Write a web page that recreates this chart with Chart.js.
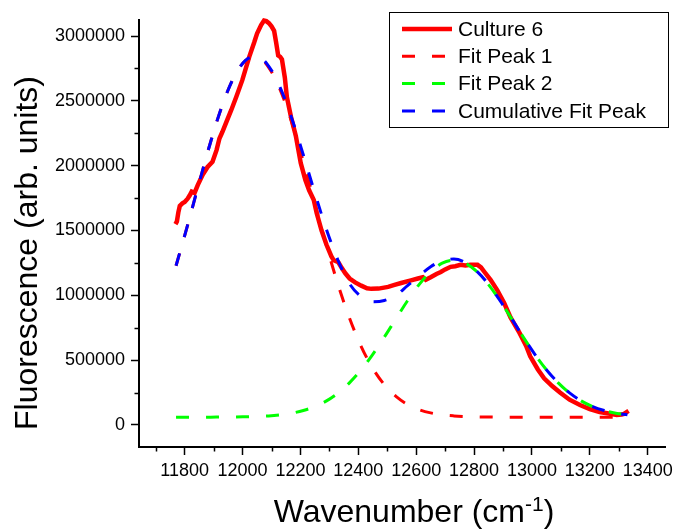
<!DOCTYPE html>
<html>
<head>
<meta charset="utf-8">
<script src="https://cdn.jsdelivr.net/npm/chart.js@4"></script>
<style>
html, body { margin: 0; padding: 0; background: #fff; }
</style>
</head>
<body>
<canvas id="chart" width="678" height="529"></canvas>
<script>
// Measured spectrum (Culture 6)
const cultureX = [11768,11773,11778,11783,11792,11800,11810,11817,11824,11834,11845,11862,11879,11896,11910,11920,11930,11948,11961,11978,11999,12023,12040,12050,12064,12074,12082,12091,12100,12109,12116,12123,12130,12136,12146,12153,12167,12184,12201,12217,12230,12246,12256,12273,12290,12307,12315,12331,12343,12355,12370,12389,12410,12430,12445,12470,12503,12525,12548,12582,12606,12623,12633,12650,12670,12685,12700,12719,12735,12753,12770,12788,12812,12824,12836,12857,12880,12904,12926,12957,12980,12994,13020,13042,13070,13097,13130,13166,13200,13234,13265,13293,13310,13318,13334];
const cultureY = [1550000,1570000,1640000,1690000,1710000,1720000,1745000,1770000,1800000,1790000,1850000,1930000,1990000,2030000,2120000,2210000,2260000,2360000,2430000,2530000,2660000,2840000,2950000,3020000,3085000,3120000,3115000,3100000,3075000,3040000,2950000,2850000,2840000,2820000,2680000,2530000,2380000,2230000,2020000,1890000,1810000,1735000,1635000,1500000,1390000,1300000,1270000,1255000,1210000,1170000,1130000,1100000,1075000,1055000,1050000,1052000,1065000,1080000,1095000,1115000,1130000,1140000,1120000,1140000,1165000,1180000,1200000,1220000,1225000,1235000,1230000,1235000,1235000,1215000,1180000,1120000,1040000,940000,830000,710000,610000,530000,430000,360000,300000,250000,195000,154000,122000,100000,88000,77000,80000,85000,108000];

// Fit curves
const fitX = [11770,11810,11850,11890,11930,11970,12010,12050,12090,12130,12170,12210,12250,12290,12330,12370,12410,12450,12490,12530,12570,12610,12650,12690,12730,12770,12810,12850,12890,12930,12970,13010,13050,13090,13130,13170,13210,13250,13290,13330];
const fitPeak1 = [1228000,1542000,1869000,2187000,2467000,2682000,2810000,2837000,2759000,2584000,2334000,2031000,1705000,1381000,1082000,821000,605000,436000,310000,220000,158000,118000,93000,78000,70000,65000,62000,61000,60000,60000,60000,60000,60000,60000,60000,60000,60000,60000,60000,60000];
const fitPeak2 = [60000,60000,60000,60000,61000,61000,63000,66000,70000,78000,91000,112000,142000,186000,247000,327000,426000,545000,678000,819000,958000,1083000,1183000,1248000,1270000,1248000,1183000,1083000,958000,819000,678000,545000,426000,327000,247000,186000,142000,112000,91000,78000];
const fitCumulative = [1228000,1542000,1869000,2187000,2468000,2683000,2813000,2843000,2769000,2602000,2365000,2083000,1787000,1507000,1269000,1088000,990000,950000,960000,1000000,1075000,1150000,1220000,1268000,1280000,1253000,1185000,1084000,958000,819000,678000,545000,426000,327000,247000,186000,142000,112000,91000,78000];

// Axes
const xMajorTicks = [11800,12000,12200,12400,12600,12800,13000,13200,13400];
const xMinorTicks = [11700,11900,12100,12300,12500,12700,12900,13100,13300];
const yMajorTicks = [0,500000,1000000,1500000,2000000,2500000,3000000];
const yMinorTicks = [250000,750000,1250000,1750000,2250000,2750000];

const FONT = 'Arial, "Liberation Sans", sans-serif';

function pts(xs, ys) {
  return xs.map((x, i) => ({ x: x, y: ys[i] }));
}

const datasets = [
  { label: 'Culture 6', data: pts(cultureX, cultureY), borderColor: '#ff0000', borderWidth: 4.5, borderDash: [], order: 4 },
  { label: 'Fit Peak 1', data: pts(fitX, fitPeak1), borderColor: '#ff0000', borderWidth: 3, borderDash: [13, 17], cubicInterpolationMode: 'monotone', order: 3 },
  { label: 'Fit Peak 2', data: pts(fitX, fitPeak2), borderColor: '#00ff00', borderWidth: 3, borderDash: [13, 17], cubicInterpolationMode: 'monotone', order: 2 },
  { label: 'Cumulative Fit Peak', data: pts(fitX, fitCumulative), borderColor: '#0000ff', borderWidth: 3, borderDash: [13, 17], cubicInterpolationMode: 'monotone', order: 1 }
];
datasets.forEach(d => { d.pointRadius = 0; d.fill = false; d.clip = 6; });

// minor ticks, axis titles and the boxed legend
const extras = {
  id: 'extras',
  afterDraw(chart) {
    const ctx = chart.ctx;
    const xs = chart.scales.x, ys = chart.scales.y;
    const area = chart.chartArea;
    ctx.save();
    ctx.strokeStyle = '#000';
    ctx.lineWidth = 1.5;
    ctx.beginPath();
    xMinorTicks.forEach(v => {
      const px = Math.round(xs.getPixelForValue(v)) + 0.5;
      ctx.moveTo(px, area.bottom);
      ctx.lineTo(px, area.bottom + 4.5);
    });
    yMinorTicks.forEach(v => {
      const py = Math.round(ys.getPixelForValue(v)) + 0.5;
      ctx.moveTo(area.left - 4.5, py);
      ctx.lineTo(area.left, py);
    });
    ctx.stroke();

    // y title
    ctx.fillStyle = '#000';
    ctx.font = '32px ' + FONT;
    ctx.save();
    ctx.translate(37, 253);
    ctx.rotate(-Math.PI / 2);
    ctx.textAlign = 'center';
    ctx.textBaseline = 'alphabetic';
    ctx.fillText('Fluorescence (arb. units)', 0, 0);
    ctx.restore();

    // x title with superscript
    const t1 = 'Wavenumber (cm', sup = '-1', t2 = ')';
    ctx.font = '32px ' + FONT;
    const w1 = ctx.measureText(t1).width, w3 = ctx.measureText(t2).width;
    ctx.font = '21px ' + FONT;
    const w2 = ctx.measureText(sup).width;
    let x0 = 414 - (w1 + w2 + w3) / 2;
    ctx.textAlign = 'left';
    ctx.textBaseline = 'alphabetic';
    ctx.font = '32px ' + FONT;
    ctx.fillText(t1, x0, 522);
    ctx.font = '21px ' + FONT;
    ctx.fillText(sup, x0 + w1, 511);
    ctx.font = '32px ' + FONT;
    ctx.fillText(t2, x0 + w1 + w2, 522);

    // legend
    ctx.lineWidth = 1;
    ctx.strokeStyle = '#000';
    ctx.strokeRect(389.5, 12.5, 279, 115);
    ctx.font = '21px ' + FONT;
    ctx.textBaseline = 'middle';
    chart.data.datasets.forEach((d, i) => {
      const y = 29 + i * 27.3;
      ctx.beginPath();
      ctx.strokeStyle = d.borderColor;
      ctx.lineWidth = d.borderWidth;
      ctx.setLineDash(d.borderDash);
      ctx.moveTo(402, y);
      ctx.lineTo(452, y);
      ctx.stroke();
      ctx.setLineDash([]);
      ctx.fillStyle = '#000';
      ctx.fillText(d.label, 458, y + 1);
    });
    ctx.restore();
  }
};

new Chart(document.getElementById('chart'), {
  type: 'line',
  data: { datasets: datasets },
  plugins: [extras],
  options: {
    responsive: false,
    animation: false,
    devicePixelRatio: 1,
    layout: { padding: { top: 20, right: 9, left: 0, bottom: 0 } },
    plugins: { legend: { display: false }, tooltip: { enabled: false } },
    scales: {
      x: {
        type: 'linear',
        min: 11642,
        max: 13460,
        afterFit: s => { s.height = 82; },
        afterBuildTicks: s => { s.ticks = xMajorTicks.map(v => ({ value: v })); },
        border: { display: true, color: '#000', width: 2 },
        grid: { drawOnChartArea: false, drawTicks: true, tickLength: 8, tickColor: '#000', tickWidth: 1.5 },
        ticks: { color: '#000', font: { family: FONT, size: 18 }, padding: 5, maxRotation: 0, autoSkip: false, callback: v => String(v) }
      },
      y: {
        type: 'linear',
        min: -170000,
        max: 3124000,
        afterFit: s => { s.width = 139; },
        afterBuildTicks: s => { s.ticks = yMajorTicks.map(v => ({ value: v })); },
        border: { display: true, color: '#000', width: 2 },
        grid: { drawOnChartArea: false, drawTicks: true, tickLength: 8, tickColor: '#000', tickWidth: 1.5 },
        ticks: { color: '#000', font: { family: FONT, size: 18 }, padding: 6, autoSkip: false, callback: v => String(v) }
      }
    }
  }
});
</script>
</body>
</html>
